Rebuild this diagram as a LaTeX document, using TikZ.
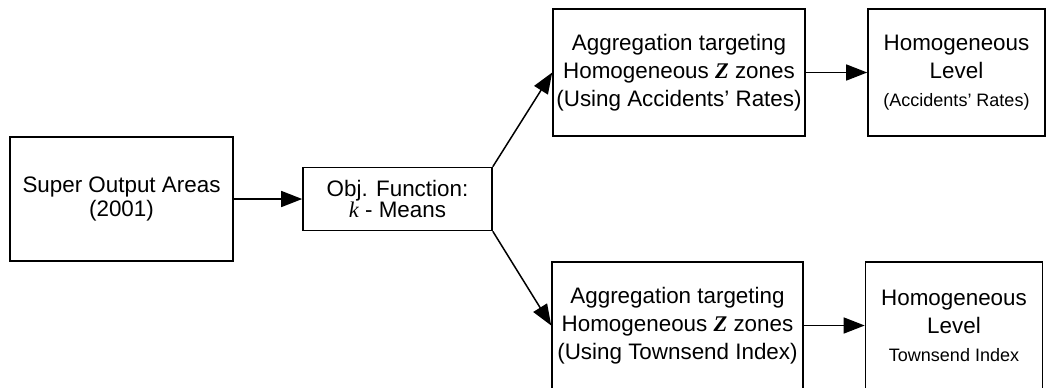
\documentclass[tikz,border=0pt]{standalone}
\usepackage{fontspec}
\setmainfont{Liberation Sans}
\newfontfamily\timesfont{Liberation Serif}
\usetikzlibrary{arrows.meta}

\begin{document}
\begin{tikzpicture}[x=0.5pt, y=-0.5pt,
    block/.style={draw, line width=0.8pt, align=center, inner sep=0pt,
        font=\fontsize{11.2}{14}\selectfont},
    flow/.style={line width=0.75pt, -{Triangle[length=10.5pt, width=8pt]}}]

    \useasboundingbox (0,0) rectangle (1046,387);

    % Define row positions
    \def\rowTop{72.5}
    \def\rowMid{199}
    \def\rowBot{325.5}

    % =========================================================================
    % Input and objective function
    % =========================================================================
    \node[block, minimum width=111.5pt, minimum height=62pt,
        font=\fontsize{11.2}{11.8}\selectfont] (soa) at (121.5, \rowMid)
        {Super Output Areas\\(2001)};
    \node[block, minimum width=94.5pt, minimum height=31.5pt,
        font=\fontsize{11.2}{10.2}\selectfont] (obj) at (397.5, \rowMid)
        {Obj. Function:\\{\timesfont\itshape k} - Means};

    % =========================================================================
    % Branch 1: Accidents' rates
    % =========================================================================
    \node[block, minimum width=126pt, minimum height=63.5pt] (aggAcc) at (679, \rowTop)
        {Aggregation targeting\\Homogeneous {\timesfont\bfseries\itshape Z} zones\\(Using Accidents' Rates)};
    \node[block, minimum width=88.5pt, minimum height=63.5pt] (homAcc) at (956.5, \rowTop)
        {Homogeneous\\Level\\{\fontsize{9}{11}\selectfont (Accidents' Rates)}};

    % =========================================================================
    % Branch 2: Townsend index
    % =========================================================================
    \node[block, minimum width=125.5pt, minimum height=63.5pt] (aggTown) at (677.5, \rowBot)
        {Aggregation targeting\\Homogeneous {\timesfont\bfseries\itshape Z} zones\\(Using Townsend Index)};
    \node[block, minimum width=88.5pt, minimum height=63.5pt] (homTown) at (954, \rowBot)
        {Homogeneous\\Level\\{\fontsize{9}{11}\selectfont Townsend Index}};

    % Connectors
    \draw[flow] (soa) -- (obj);
    \draw[flow] (obj.north east) -- (aggAcc.west);
    \draw[flow] (obj.south east) -- (aggTown.west);
    \draw[flow] (aggAcc) -- (homAcc);
    \draw[flow] (aggTown) -- (homTown);

\end{tikzpicture}
\end{document}
